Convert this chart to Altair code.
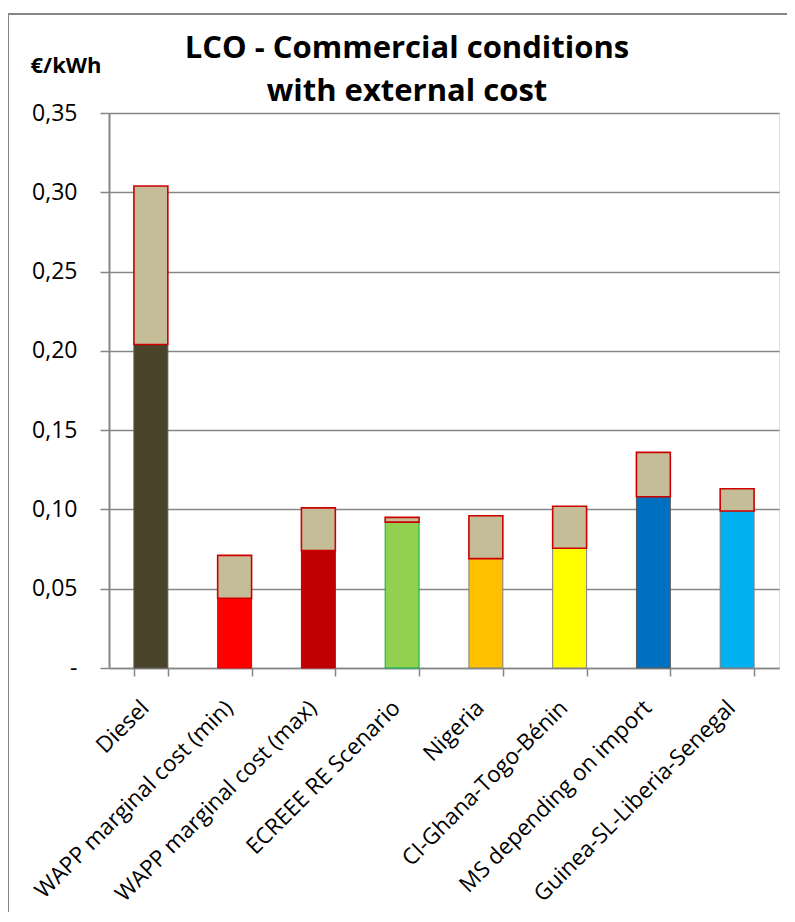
import altair as alt
import pandas as pd

categories = [
    "Diesel",
    "WAPP marginal cost (min)",
    "WAPP marginal cost (max)",
    "ECREEE RE Scenario",
    "Nigeria",
    "CI-Ghana-Togo-Bénin",
    "MS depending on import",
    "Guinea-SL-Liberia-Senegal",
]
base_values = [0.204, 0.044, 0.074, 0.092, 0.069, 0.0755, 0.108, 0.099]
external_values = [0.100, 0.027, 0.027, 0.003, 0.027, 0.0265, 0.028, 0.014]
base_colors = ["#4A452A", "#FF0000", "#C00000", "#92D050", "#FFC000", "#FFFF00", "#0070C0", "#00B0F0"]
base_strokes = ["#5A5A5A", "#E00000", "#C00000", "#00B050", "#7F7F7F", "#7F7F7F", "#5A5A5A", "#7F7F7F"]
external_color = "#C4BD97"
external_stroke = "#CC0000"
y_ticks = [0.0, 0.05, 0.10, 0.15, 0.20, 0.25, 0.30, 0.35]

df = pd.DataFrame({
    "category": categories,
    "base": base_values,
    "external": external_values,
    "color": base_colors,
    "stroke": base_strokes,
})
df["total"] = df["base"] + df["external"]

FONT = "Open Sans"
GRID = "#868686"

x_enc = alt.X(
    "category:N",
    sort=categories,
    scale=alt.Scale(paddingInner=0.595, paddingOuter=0.2975),
    axis=alt.Axis(
        title=None,
        labelAngle=-45,
        labelAlign="right",
        labelBaseline="middle",
        labelFontSize=22.5,
        labelFont=FONT,
        labelColor="black",
        labelPadding=28,
        labelOffset=-6,
        labelLimit=0,
        tickBand="extent",
        tickSize=8,
        tickColor=GRID,
        tickWidth=1.5,
        domainColor=GRID,
        domainWidth=1.5,
        grid=False,
    ),
)

y_axis = alt.Axis(
    values=y_ticks,
    labelExpr="datum.value == 0 ? '-\u00a0\u00a0' : replace(format(datum.value, '.2f'), '.', ',')",
    title="€/kWh",
    titleAngle=0,
    titleX=-79,
    titleY=-41,
    titleAlign="left",
    titleBaseline="alphabetic",
    titleFontSize=22,
    titleFont=FONT,
    titleFontWeight="bold",
    titleColor="black",
    labelFontSize=23,
    labelFont=FONT,
    labelColor="black",
    labelPadding=23,
    tickSize=9,
    tickColor=GRID,
    tickWidth=1.5,
    domainColor=GRID,
    domainWidth=2,
    grid=True,
    gridColor=GRID,
    gridWidth=1.4,
)

y_scale = alt.Scale(domain=[0, 0.35], nice=False, zero=True)

base_layer = alt.Chart(df).mark_bar(strokeWidth=1).encode(
    x=x_enc,
    y=alt.Y("base:Q", scale=y_scale, axis=y_axis),
    color=alt.Color("color:N", scale=None),
    stroke=alt.Stroke("stroke:N", scale=None),
)

ext_layer = alt.Chart(df).mark_bar(
    color=external_color, stroke=external_stroke, strokeWidth=1.6
).encode(
    x=x_enc,
    y=alt.Y("base:Q", scale=y_scale, axis=y_axis),
    y2="total:Q",
)

frame = alt.Chart(pd.DataFrame({"f": [0]})).mark_rect(
    fillOpacity=0, stroke=GRID, strokeWidth=2
).encode(
    x=alt.value(-101), x2=alt.value(690), y=alt.value(-99), y2=alt.value(820)
)

chart = alt.layer(frame, base_layer, ext_layer).properties(
    width=670,
    height=555,
    autosize=alt.AutoSizeParams(type="none"),
    padding={"left": 101, "top": 105, "right": 8, "bottom": 244},
    title=alt.TitleParams(
        ["LCO - Commercial conditions", "with external cost"],
        fontSize=31,
        font=FONT,
        fontWeight="bold",
        color="black",
        anchor="middle",
        dx=-37,
        dy=103,
        offset=8,
        lineHeight=43,
    ),
).configure_view(stroke=None).configure(background="white")

chart.save("out.html", embed_options={"renderer": "svg", "actions": False})
